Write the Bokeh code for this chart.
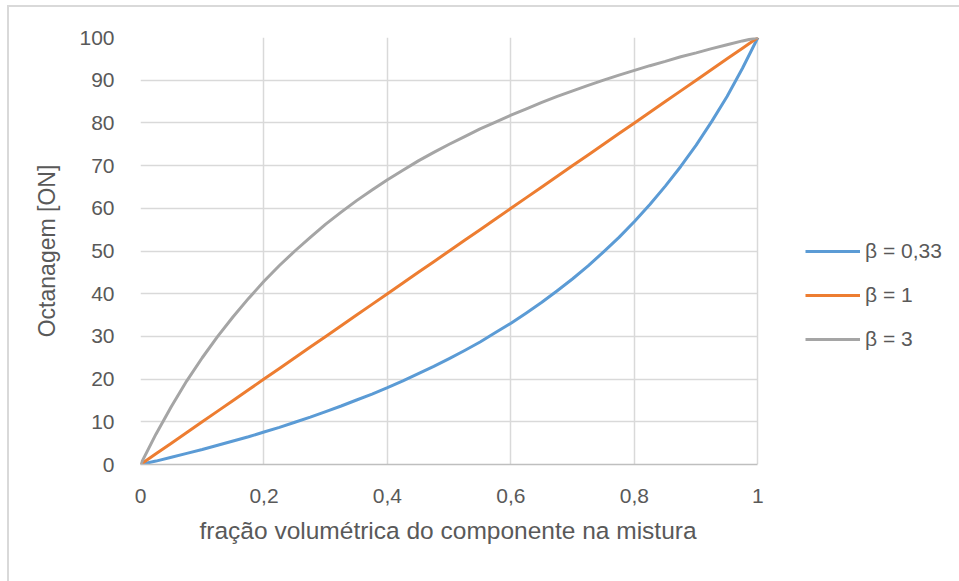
from bokeh.plotting import figure
from bokeh.models import Range1d, Legend, LegendItem, FixedTicker, InlineStyleSheet, Title
from bokeh.embed import file_html
from bokeh.resources import INLINE

# volume fraction of the component in the blend
fraction = [0, 0.025, 0.05, 0.075, 0.1, 0.125, 0.15, 0.175, 0.2, 0.225, 0.25,
            0.275, 0.3, 0.325, 0.35, 0.375, 0.4, 0.425, 0.45, 0.475, 0.5,
            0.525, 0.55, 0.575, 0.6, 0.625, 0.65, 0.675, 0.7, 0.725, 0.75,
            0.775, 0.8, 0.825, 0.85, 0.875, 0.9, 0.925, 0.95, 0.975, 1]

# octane number of the blend for each blending parameter
on_beta_033 = [0, 0.8, 1.7, 2.6, 3.5, 4.5, 5.5, 6.5, 7.6, 8.7, 9.9,
               11.1, 12.4, 13.7, 15.1, 16.5, 18.0, 19.6, 21.3, 23.0, 24.8,
               26.7, 28.7, 30.9, 33.1, 35.5, 38.0, 40.7, 43.5, 46.5, 49.8,
               53.2, 56.9, 60.9, 65.2, 69.8, 74.8, 80.3, 86.2, 92.8, 100]
on_beta_1 = [0, 2.5, 5, 7.5, 10, 12.5, 15, 17.5, 20, 22.5, 25,
             27.5, 30, 32.5, 35, 37.5, 40, 42.5, 45, 47.5, 50,
             52.5, 55, 57.5, 60, 62.5, 65, 67.5, 70, 72.5, 75,
             77.5, 80, 82.5, 85, 87.5, 90, 92.5, 95, 97.5, 100]
on_beta_3 = [0, 7.1, 13.6, 19.6, 25.0, 30.0, 34.6, 38.9, 42.9, 46.6, 50.0,
             53.2, 56.3, 59.1, 61.8, 64.3, 66.7, 68.9, 71.1, 73.1, 75.0,
             76.8, 78.6, 80.2, 81.8, 83.3, 84.8, 86.2, 87.5, 88.8, 90.0,
             91.2, 92.3, 93.4, 94.4, 95.5, 96.4, 97.4, 98.3, 99.2, 100]

series_labels = ["β = 0,33", "β = 1", "β = 3"]
series_colors = ["#5b9bd5", "#ed7d31", "#a5a5a5"]

x_ticks = [0, 0.2, 0.4, 0.6, 0.8, 1]
x_tick_labels = ["0", "0,2", "0,4", "0,6", "0,8", "1"]
y_ticks = [0, 10, 20, 30, 40, 50, 60, 70, 80, 90, 100]

x_title = "fração volumétrica do componente na mistura"
y_title = "Octanagem [ON]"

FONT = "Liberation Sans"
TEXT = "#595959"

# the frame reaches into the right margin so the legend can sit there;
# grid and axis are bounded to the data span 0..1
p = figure(width=959, height=581, output_backend="svg", toolbar_location=None,
           x_range=Range1d(0, 1.32), y_range=Range1d(0, 100),
           min_border_left=140, min_border_right=4,
           min_border_top=37, min_border_bottom=117)
p.outline_line_color = None
p.background_fill_color = "white"
p.border_fill_color = "white"

# frame around the whole chart area
p.stylesheets.append(InlineStyleSheet(css="""
:host { position: relative; }
:host::after {
  content: ""; position: absolute; left: 7px; top: 5px; right: 0; bottom: 0;
  border-left: 2px solid #d9d9d9; border-top: 2px solid #d9d9d9;
  pointer-events: none;
}
"""))

renderers = []
for ys, col in zip([on_beta_033, on_beta_1, on_beta_3], series_colors):
    r = p.line(fraction, ys, line_color=col, line_width=3, line_join="round")
    renderers.append(r)

# axes
p.xaxis.ticker = FixedTicker(ticks=x_ticks)
p.xaxis.major_label_overrides = {float(t): s for t, s in zip(x_ticks, x_tick_labels)}
p.xaxis.bounds = (0, 1)
p.yaxis.ticker = FixedTicker(ticks=y_ticks)
for ax in (p.xaxis[0], p.yaxis[0]):
    ax.major_tick_line_color = None
    ax.minor_tick_line_color = None
    ax.major_label_text_font = FONT
    ax.major_label_text_font_size = "21px"
    ax.major_label_text_color = TEXT
    ax.axis_label_text_font = FONT
    ax.axis_label_text_font_style = "normal"
    ax.axis_label_text_color = TEXT
p.yaxis.axis_label_text_font_size = "23px"
p.xaxis.axis_line_color = "#bfbfbf"
p.xaxis.axis_line_width = 1.5
p.yaxis.axis_line_color = None
p.yaxis.axis_label = y_title
p.xaxis.major_label_standoff = 18
p.yaxis.major_label_standoff = 20
p.yaxis.axis_label_standoff = 16

# x-axis title, centred under the 0..1 span
p.add_layout(Title(text=x_title, align="left", offset=59, standoff=18,
                   text_font=FONT, text_font_size="24.5px", text_font_style="normal",
                   text_color=TEXT), "below")

# grid
p.xgrid.ticker = FixedTicker(ticks=x_ticks)
p.ygrid.ticker = FixedTicker(ticks=y_ticks)
p.ygrid.cross_bounds = (0, 1)
p.xgrid.grid_line_color = "#d9d9d9"
p.ygrid.grid_line_color = "#d9d9d9"
p.xgrid.grid_line_width = 1.5
p.ygrid.grid_line_width = 1.5

legend = Legend(
    items=[LegendItem(label=lab, renderers=[r]) for lab, r in zip(series_labels, renderers)],
    location=(665, 113), glyph_width=55, glyph_height=20, label_height=20,
    spacing=20, padding=0, margin=0, label_standoff=5,
    border_line_color=None, background_fill_alpha=0,
    label_text_font=FONT, label_text_font_size="21px", label_text_color=TEXT,
)
p.add_layout(legend)

open("out.html", "w").write(file_html(p, INLINE))
